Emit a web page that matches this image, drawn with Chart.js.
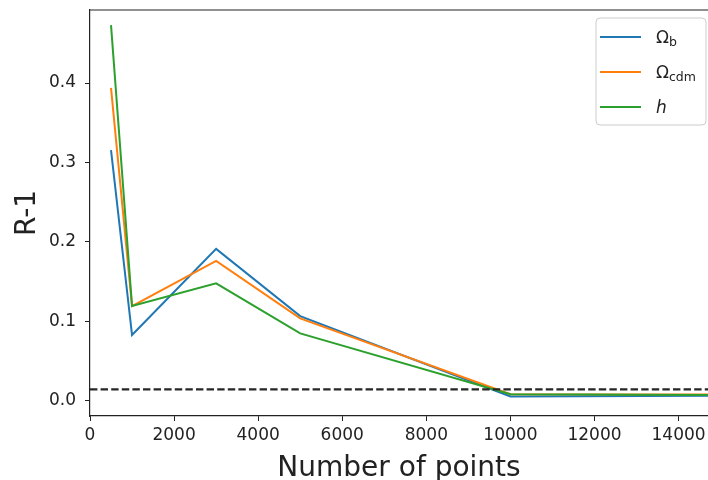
<!DOCTYPE html>
<html>
<head>
<meta charset="utf-8">
<script src="https://cdn.jsdelivr.net/npm/chart.js@4"></script>
<style>
  html, body { margin: 0; padding: 0; background: #fff; }
</style>
</head>
<body>
<canvas id="chart1" width="708" height="480"></canvas>
<script>
// data
const nPoints = [500, 1000, 3000, 5000, 10000, 15000];
const omegaB = [0.3155, 0.0825, 0.191, 0.1064, 0.005, 0.006];
const omegaCdm = [0.394, 0.119, 0.176, 0.1035, 0.008, 0.0075];
const hValues = [0.473, 0.119, 0.1476, 0.0846, 0.008, 0.007];
const threshold = 0.014;

const xTicks = [0, 2000, 4000, 6000, 8000, 10000, 12000, 14000];
const yTicks = [0.0, 0.1, 0.2, 0.3, 0.4];

const seriesLabels = ['Ωb', 'Ωcdm', 'h'];
const legendMain = ['Ω', 'Ω', 'h'];
const legendSub = ['b', 'cdm', ''];
const colors = ['#1f77b4', '#ff7f0e', '#2ca02c'];

const FONT = "'DejaVu Sans', sans-serif";
const INK = '#222';

function pts(ys) {
  return nPoints.map((x, i) => ({ x: x, y: ys[i] }));
}

// dashed reference line + top spine + legend
const extras = {
  id: 'extras',
  afterDatasetsDraw(chart) {
    const { ctx, chartArea: a, scales } = chart;
    const y = scales.y.getPixelForValue(threshold);
    ctx.save();
    ctx.beginPath();
    ctx.rect(a.left, a.top, a.right - a.left, a.bottom - a.top);
    ctx.clip();
    ctx.setLineDash([7.4, 3.2]);
    ctx.strokeStyle = '#262626';
    ctx.lineWidth = 2.2;
    ctx.beginPath();
    ctx.moveTo(a.left, y);
    ctx.lineTo(a.right, y);
    ctx.stroke();
    ctx.restore();

    ctx.save();
    ctx.strokeStyle = INK;
    ctx.lineWidth = 1.2;
    ctx.beginPath();
    ctx.moveTo(a.left, a.top);
    ctx.lineTo(a.right, a.top);
    ctx.stroke();
    ctx.restore();
  },
  afterDraw(chart) {
    const ctx = chart.ctx;
    const bx = 596, by = 18, bw = 110, bh = 107;
    ctx.save();
    ctx.beginPath();
    ctx.roundRect(bx, by, bw, bh, 4);
    ctx.fillStyle = 'rgba(255,255,255,0.8)';
    ctx.fill();
    ctx.strokeStyle = '#cccccc';
    ctx.lineWidth = 1;
    ctx.stroke();

    const rows = [37, 72, 107];
    for (let i = 0; i < rows.length; i++) {
      const y = rows[i];
      ctx.strokeStyle = colors[i];
      ctx.lineWidth = 2;
      ctx.beginPath();
      ctx.moveTo(600, y);
      ctx.lineTo(641, y);
      ctx.stroke();

      ctx.fillStyle = INK;
      ctx.textBaseline = 'alphabetic';
      ctx.textAlign = 'left';
      ctx.font = (legendSub[i] ? '' : 'italic ') + '17px ' + FONT;
      ctx.fillText(legendMain[i], 656, y + 6);
      if (legendSub[i]) {
        const w = ctx.measureText(legendMain[i]).width;
        ctx.font = '12.5px ' + FONT;
        ctx.fillText(legendSub[i], 656 + w, y + 9);
      }
    }
    ctx.restore();
  }
};

new Chart(document.getElementById('chart1'), {
  type: 'line',
  data: {
    datasets: [
      { label: seriesLabels[0], data: pts(omegaB), borderColor: colors[0], order: 2 },
      { label: seriesLabels[1], data: pts(omegaCdm), borderColor: colors[1], order: 1 },
      { label: seriesLabels[2], data: pts(hValues), borderColor: colors[2], order: 0 }
    ]
  },
  options: {
    responsive: false,
    animation: false,
    devicePixelRatio: 1,
    layout: { padding: { top: 10, left: 0, right: 0, bottom: 0 } },
    elements: {
      line: { borderWidth: 2, tension: 0, fill: false },
      point: { radius: 0 }
    },
    plugins: {
      legend: { display: false },
      tooltip: { enabled: false },
      title: { display: false }
    },
    scales: {
      x: {
        type: 'linear',
        min: 0,
        max: 14700,
        afterBuildTicks: s => { s.ticks = xTicks.map(v => ({ value: v })); },
        afterFit: s => { s.height = 64; s.paddingLeft = 0; s.paddingRight = 0; },
        ticks: {
          color: INK,
          font: { family: FONT, size: 17 },
          padding: 4,
          maxRotation: 0,
          autoSkip: false,
          callback: v => String(v)
        },
        grid: { drawOnChartArea: false, tickLength: 5, tickColor: INK, tickWidth: 1 },
        border: { display: true, color: INK, width: 1.2 },
        title: {
          display: true,
          text: 'Number of points',
          color: INK,
          font: { family: FONT, size: 28, lineHeight: 1 },
          padding: { top: 0, bottom: -3 }
        }
      },
      y: {
        type: 'linear',
        min: -0.0195,
        max: 0.492,
        afterBuildTicks: s => { s.ticks = yTicks.map(v => ({ value: v })); },
        afterFit: s => { s.width = 90; s.paddingTop = 0; s.paddingBottom = 0; },
        ticks: {
          color: INK,
          font: { family: FONT, size: 17 },
          padding: 9,
          callback: v => v.toFixed(1)
        },
        grid: { drawOnChartArea: false, tickLength: 5, tickColor: INK, tickWidth: 1 },
        border: { display: true, color: INK, width: 1.2 },
        title: {
          display: true,
          text: 'R-1',
          color: INK,
          font: { family: FONT, size: 28, lineHeight: 1 },
          padding: { top: 14, bottom: 0 }
        }
      }
    }
  },
  plugins: [extras]
});
</script>
</body>
</html>
